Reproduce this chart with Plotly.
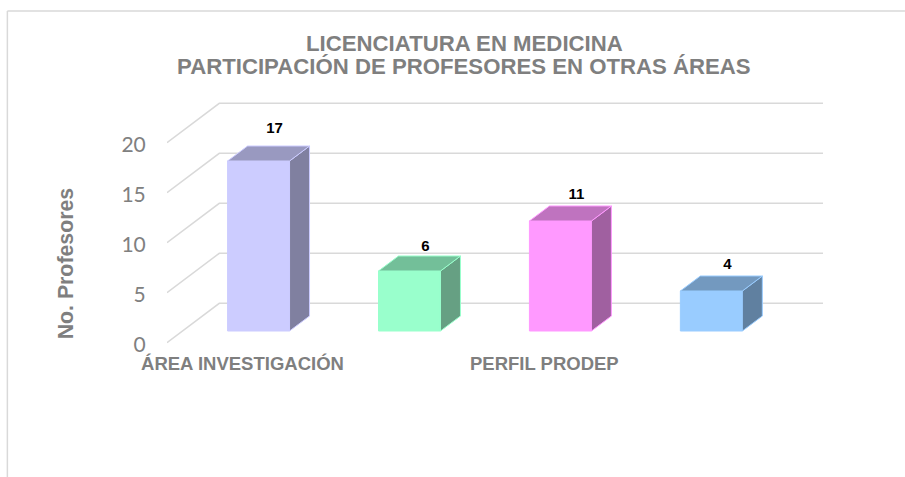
import plotly.graph_objects as go

# Data
categories = ["ÁREA INVESTIGACIÓN", "", "PERFIL PRODEP", ""]
values = [17, 6, 11, 4]
y_ticks = [0, 5, 10, 15, 20]
front_colors = ["#CCCCFF", "#99FFCC", "#FF99FF", "#99CCFF"]
side_colors = ["#8080A0", "#66A083", "#A060A0", "#6080A0"]
top_colors = ["#9999C0", "#73BF99", "#BF73BF", "#7399BF"]
label_lift = [3.2, 2.35, 2.6, 2.55]
title_lines = ["LICENCIATURA EN MEDICINA", "PARTICIPACIÓN DE PROFESORES EN OTRAS ÁREAS"]
y_title = "No. Profesores"

# Scale: 151 px per category, 10 px per unit
W, H = 905, 477
PX_X, PX_Y = 151.0, 10.0
L, R, T, B = 166.7, 823.0, 90.0, 345.0
x_at_left = -0.5
x_range = [x_at_left, x_at_left + (R - L) / PX_X]
y_range = [-(B - 342.7) / PX_Y, (342.7 - T) / PX_Y]

# Oblique projection
wall_dx, wall_dy = 52.3 / PX_X, 3.94
bar_dx, bar_dy = 20 / PX_X, 1.5
bar_off_x, bar_off_y = 16.1 / PX_X, 1.17
bar_w = 62 / PX_X
GREY = "#7F7F7F"
FONT = "Liberation Sans, Arial, sans-serif"

xs = [i + bar_off_x for i in range(len(values))]

fig = go.Figure()
fig.add_trace(go.Bar(
    x=xs, y=values, base=[bar_off_y] * len(values), width=bar_w,
    marker=dict(color=front_colors, line=dict(color=front_colors, width=1)),
    hoverinfo="skip", showlegend=False))

for x, v, fc, sc, tc in zip(xs, values, front_colors, side_colors, top_colors):
    x0, x1 = x - bar_w / 2, x + bar_w / 2
    y0, y1 = bar_off_y, bar_off_y + v
    fig.add_trace(go.Scatter(
        x=[x1, x1 + bar_dx, x1 + bar_dx, x1, x1],
        y=[y0, y0 + bar_dy, y1 + bar_dy, y1, y0],
        mode="lines", fill="toself", fillcolor=sc,
        line=dict(color=fc, width=1), hoverinfo="skip", showlegend=False))
    fig.add_trace(go.Scatter(
        x=[x0, x0 + bar_dx, x1 + bar_dx, x1, x0],
        y=[y1, y1 + bar_dy, y1 + bar_dy, y1, y1],
        mode="lines", fill="toself", fillcolor=tc,
        line=dict(color=fc, width=1), hoverinfo="skip", showlegend=False))

fig.add_trace(go.Scatter(
    x=[x + bar_w / 2 - 15 / PX_X for x in xs],
    y=[bar_off_y + v + d for v, d in zip(values, label_lift)],
    mode="text", text=[str(v) for v in values],
    textposition="middle center",
    textfont=dict(family=FONT, size=15, color="#000000"),
    texttemplate="<b>%{text}</b>",
    hoverinfo="skip", showlegend=False))

shapes = []
for t in y_ticks:
    shapes.append(dict(
        type="path", layer="below", xref="x", yref="y",
        path=f"M {x_range[0]} {t} L {x_range[0] + wall_dx} {t + wall_dy} L {x_range[1]} {t + wall_dy}",
        line=dict(color="#D9D9D9", width=1.5)))

# Chart frame
fy = (B - 11) / (B - T)
fx = (7 - L) / (R - L)
shapes.append(dict(type="line", xref="paper", yref="paper",
                   x0=fx, x1=(905 - L) / (R - L), y0=fy, y1=fy,
                   line=dict(color="#D9D9D9", width=1.5)))
shapes.append(dict(type="line", xref="paper", yref="paper",
                   x0=fx, x1=fx, y0=fy, y1=(B - 477) / (B - T),
                   line=dict(color="#D9D9D9", width=1.5)))

annotations = [
    dict(text=f"<b>{line}</b>", xref="paper", yref="paper", showarrow=False,
         x=(464 - L) / (R - L), y=(B - py) / (B - T), xanchor="center", yanchor="middle",
         font=dict(family=FONT, size=22.2, color=GREY))
    for line, py in zip(title_lines, [43.5, 66.5])
]
annotations.append(dict(
    text=f"<b>{y_title}</b>", xref="paper", yref="paper", showarrow=False, textangle=-90,
    x=(66 - L) / (R - L), y=(B - 263) / (B - T), xanchor="center", yanchor="middle",
    font=dict(family=FONT, size=21.3, color=GREY)))

fig.update_layout(
    width=W, height=H,
    margin=dict(l=L, r=W - R, t=T, b=H - B, pad=0, autoexpand=False),
    paper_bgcolor="white", plot_bgcolor="rgba(0,0,0,0)",
    showlegend=False, shapes=shapes, annotations=annotations,
    xaxis=dict(
        range=x_range, tickmode="array",
        tickvals=list(range(len(categories))), ticktext=categories,
        tickangle=0,
        showgrid=False, zeroline=False, showline=False,
        ticks="outside", ticklen=2, tickcolor="rgba(0,0,0,0)",
        tickfont=dict(family=FONT, size=18.5, color=GREY, weight="bold")),
    yaxis=dict(
        range=y_range, tickmode="array", tickvals=y_ticks,
        showgrid=False, zeroline=False, showline=False,
        ticks="outside", ticklen=16, tickcolor="rgba(0,0,0,0)",
        ticklabelshift=2,
        tickfont=dict(family="Lato, sans-serif", size=21, color="#808080")),
)

fig.write_html("out.html", config=dict(displayModeBar=False),
               post_script="document.body.style.margin='0';document.body.style.overflow='hidden';")
